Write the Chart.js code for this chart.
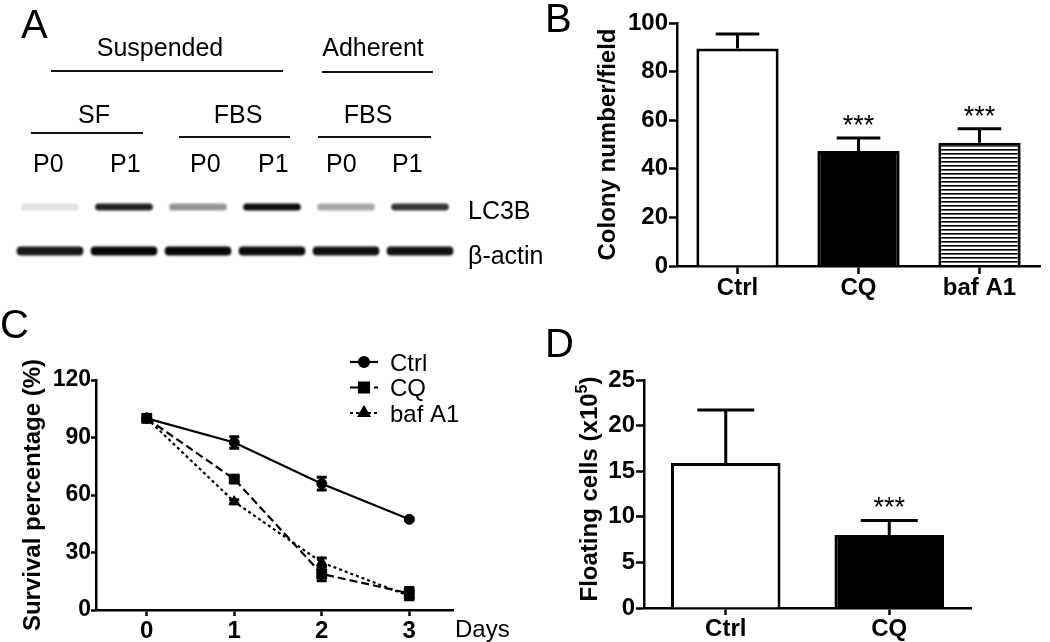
<!DOCTYPE html>
<html><head><meta charset="utf-8">
<script src="https://cdn.jsdelivr.net/npm/chart.js@4.4.1/dist/chart.umd.min.js"></script>
<style>
html,body{margin:0;padding:0;background:#fff;}
#fig{position:relative;width:1050px;height:642px;overflow:hidden;background:#fff;font-family:"Liberation Sans",Arial,sans-serif;color:#000;}
#fig canvas{position:absolute;}
.t{position:absolute;white-space:nowrap;line-height:1;}
.hl{position:absolute;height:2px;background:#111;}
</style></head><body>
<div id="fig">
  <canvas id="cA" width="520" height="300" style="left:0;top:0"></canvas>
  <canvas id="cB" width="530" height="310" style="left:520px;top:0"></canvas>
  <canvas id="cC" width="520" height="342" style="left:0;top:300px"></canvas>
  <canvas id="cD" width="530" height="342" style="left:520px;top:300px"></canvas>
</div>
<script>
// ---------------- DATA ----------------
// Panel A (western blot): relative band densities per lane
const blotLanes = ['SF P0', 'SF P1', 'FBS P0', 'FBS P1', 'Adherent FBS P0', 'Adherent FBS P1'];
const blotRows = ['LC3B', 'β-actin'];
const lc3bDensity = [0.08, 0.86, 0.40, 0.95, 0.32, 0.78];
const actinDensity = [0.90, 0.97, 0.97, 0.95, 0.93, 0.93];

// Panel B
const colonyGroups = ['Ctrl', 'CQ', 'baf A1'];
const colonyMean = [89.5, 47.3, 50.7];
const colonySem = [6.0, 5.4, 5.8];
const colonySig = ['', '***', '***'];
const colonyTicks = [0, 20, 40, 60, 80, 100];

// Panel C
const days = [0, 1, 2, 3];
const survCtrl = [100, 87.4, 65.9, 47.3];
const survCtrlErr = [0, 3.0, 3.3, 0.6];
const survCQ = [100, 68.3, 18.8, 8.7];
const survCQErr = [0, 1.2, 3.6, 3.0];
const survBaf = [100, 56.5, 24.8, 7.3];
const survBafErr = [0, 1.0, 2.3, 2.0];
const survTicks = [0, 30, 60, 90, 120];

// Panel D
const floatGroups = ['Ctrl', 'CQ'];
const floatMean = [15.9, 8.0];
const floatSem = [5.8, 1.6];
const floatSig = ['', '***'];
const floatTicks = [0, 5, 10, 15, 20, 25];

// ---------------- helpers ----------------
const FONT = '"Liberation Sans", Arial, sans-serif';
Chart.defaults.font.family = FONT;
Chart.defaults.color = '#000';
Chart.defaults.animation = false;
Chart.defaults.plugins.legend.display = false;
Chart.defaults.plugins.tooltip.enabled = false;

const fig = document.getElementById('fig');
function label(text, x, baseline, size, opts = {}) {
  const d = document.createElement('div');
  d.className = 't';
  d.textContent = text;
  d.style.fontSize = size + 'px';
  d.style.fontWeight = opts.bold ? 'bold' : 'normal';
  d.style.left = x + 'px';
  d.style.top = (baseline - 0.8465 * size) + 'px';
  if (opts.center) d.style.transform = 'translateX(-50%)';
  fig.appendChild(d);
}
function hline(x1, x2, y) {
  const d = document.createElement('div');
  d.className = 'hl';
  d.style.left = x1 + 'px';
  d.style.width = (x2 - x1) + 'px';
  d.style.top = (y - 1) + 'px';
  fig.appendChild(d);
}
function fixedTicks(arr) {
  return (s) => { s.ticks = arr.map(v => ({ value: v })); };
}

// error-bar / significance plugin factory
function errPlugin(sets) {
  return {
    id: 'errbars',
    afterDatasetsDraw(chart) {
      const ctx = chart.ctx;
      const yS = chart.scales.y;
      sets.forEach(s => {
        const meta = chart.getDatasetMeta(s.dataset);
        meta.data.forEach((el, i) => {
          const v = s.means[i], e = s.errs[i];
          const x = el.x;
          const cap = s.capFrac ? el.width * s.capFrac : s.cap;
          const yTop = yS.getPixelForValue(v + e);
          const yBot = yS.getPixelForValue(s.both ? v - e : v);
          ctx.save();
          ctx.strokeStyle = '#000';
          ctx.lineWidth = s.lw;
          ctx.lineCap = 'butt';
          if (e > 0) {
            ctx.beginPath();
            ctx.moveTo(x, yBot); ctx.lineTo(x, yTop);
            ctx.moveTo(x - cap / 2, yTop); ctx.lineTo(x + cap / 2, yTop);
            if (s.both) { ctx.moveTo(x - cap / 2, yBot); ctx.lineTo(x + cap / 2, yBot); }
            ctx.stroke();
          }
          if (s.sig && s.sig[i]) {
            ctx.fillStyle = '#000';
            ctx.font = '27px ' + FONT;
            ctx.textAlign = 'center';
            ctx.textBaseline = 'alphabetic';
            ctx.fillText(s.sig[i], x, yTop - 4);
          }
          ctx.restore();
        });
      });
    }
  };
}

const axisBorder = { color: '#000', width: 2.5 };

// ---------------- Panel A text ----------------
label('A', 21, 38, 40);
label('B', 545, 32, 40);
label('C', 0, 338, 40);
label('D', 545, 357, 40);

label('Suspended', 160, 56, 25, { center: true });
label('Adherent', 373, 56, 25, { center: true });
hline(51, 283, 71);
hline(322, 433, 72);
label('SF', 94, 123, 25, { center: true });
label('FBS', 238, 123, 25, { center: true });
label('FBS', 368, 123, 25, { center: true });
hline(31, 143, 133);
hline(179, 290, 137);
hline(318, 431, 137);
const pLeft = [33, 110, 190, 258, 326, 392];
['P0', 'P1', 'P0', 'P1', 'P0', 'P1'].forEach((t, i) => label(t, pLeft[i], 172, 25));
label(blotRows[0], 468, 219, 25);
label(blotRows[1], 468, 264, 25);

// ---------------- Panel A blot ----------------
const bandHalf = { lc3b: 0.08, actin: 0.1 };
const gray = d => { const g = Math.round(245 * (1 - d)); return `rgb(${g},${g},${g})`; };
new Chart(document.getElementById('cA'), {
  type: 'bar',
  data: {
    labels: blotLanes,
    datasets: [
      { label: blotRows[0], data: lc3bDensity.map(() => [1.5 - bandHalf.lc3b, 1.5 + bandHalf.lc3b]),
        backgroundColor: lc3bDensity.map(gray), barPercentage: 0.78, categoryPercentage: 1,
        grouped: false, borderRadius: 4, borderSkipped: false },
      { label: blotRows[1], data: actinDensity.map(() => [0.5 - bandHalf.actin, 0.5 + bandHalf.actin]),
        backgroundColor: actinDensity.map(gray), barPercentage: 0.9, categoryPercentage: 1,
        grouped: false, borderRadius: 4, borderSkipped: false }
    ]
  },
  options: {
    responsive: false,
    layout: { padding: { left: 13, right: 63, top: 185, bottom: 27 } },
    scales: {
      x: { display: false },
      y: { display: false, min: 0, max: 2 }
    }
  },
  plugins: [{
    id: 'blotBlur',
    beforeDatasetsDraw(c) { c.ctx.save(); c.ctx.filter = 'blur(1.3px)'; },
    afterDatasetsDraw(c) { c.ctx.restore(); }
  }]
});

// ---------------- Panel B ----------------
const pc = document.createElement('canvas');
pc.width = 4; pc.height = 4;
const pctx = pc.getContext('2d');
pctx.fillStyle = '#fff'; pctx.fillRect(0, 0, 4, 4);
pctx.fillStyle = '#000'; pctx.fillRect(0, 1, 4, 1.6);
const stripes = document.getElementById('cB').getContext('2d').createPattern(pc, 'repeat');

new Chart(document.getElementById('cB'), {
  type: 'bar',
  data: {
    labels: colonyGroups,
    datasets: [{
      data: colonyMean,
      backgroundColor: ['#fff', '#000', stripes],
      borderColor: '#000', borderWidth: 3, borderSkipped: 'start',
      barPercentage: 0.68, categoryPercentage: 1
    }]
  },
  options: {
    responsive: false,
    layout: { padding: { left: 74, right: 10, top: 23, bottom: 0 } },
    scales: {
      x: {
        afterFit: s => { s.height = 44; },
        grid: { offset: false, drawOnChartArea: false, drawTicks: true, tickLength: 8, tickWidth: 2.5, tickColor: '#000' },
        border: axisBorder,
        ticks: { font: { size: 24, weight: 'bold' }, padding: 0, color: '#000' }
      },
      y: {
        min: 0, max: 100,
        afterBuildTicks: fixedTicks(colonyTicks),
        afterFit: s => { s.width = 83; },
        grid: { drawOnChartArea: false, drawTicks: true, tickLength: 8, tickWidth: 2.5, tickColor: '#000' },
        border: axisBorder,
        ticks: { font: { size: 24, weight: 'bold' }, padding: 1, color: '#000' },
        title: { display: true, text: 'Colony number/field', font: { size: 24, weight: 'bold' }, padding: 0, color: '#000' }
      }
    }
  },
  plugins: [errPlugin([{ dataset: 0, means: colonyMean, errs: colonySem, capFrac: 0.53, lw: 3, both: false, sig: colonySig }])]
});

// ---------------- Panel C ----------------
const toXY = arr => days.map((d, i) => ({ x: d, y: arr[i] }));
const cLegend = {
  id: 'cLegend',
  afterDraw(chart) {
    const ctx = chart.ctx;
    chart.data.datasets.forEach((ds, i) => {
      const yc = 62 + i * 25.5;
      ctx.save();
      ctx.strokeStyle = '#000'; ctx.fillStyle = '#000'; ctx.lineWidth = 2.2;
      ctx.setLineDash(ds.borderDash || []);
      ctx.beginPath(); ctx.moveTo(350, yc); ctx.lineTo(378, yc); ctx.stroke();
      ctx.setLineDash([]);
      Chart.helpers.drawPoint(ctx, { pointStyle: ds.pointStyle, radius: ds.pointRadius, borderWidth: 1, rotation: 0 }, 364, yc);
      ctx.font = '24px ' + FONT; ctx.textBaseline = 'alphabetic'; ctx.textAlign = 'left';
      ctx.fillText(ds.label, 390, yc + 8.6);
      ctx.restore();
    });
    ctx.save();
    ctx.fillStyle = '#000'; ctx.font = '24px ' + FONT; ctx.textBaseline = 'alphabetic';
    ctx.fillText('Days', 455, 337);
    ctx.restore();
  }
};
const lineCommon = { borderColor: '#000', backgroundColor: '#000', pointBackgroundColor: '#000', pointBorderColor: '#000', borderWidth: 2.2, pointBorderWidth: 1, fill: false, tension: 0 };
new Chart(document.getElementById('cC'), {
  type: 'line',
  data: {
    datasets: [
      Object.assign({ label: 'Ctrl', data: toXY(survCtrl), pointStyle: 'circle', pointRadius: 5 }, lineCommon),
      Object.assign({ label: 'CQ', data: toXY(survCQ), pointStyle: 'rect', pointRadius: 7, borderDash: [8, 4] }, lineCommon),
      Object.assign({ label: 'baf A1', data: toXY(survBaf), pointStyle: 'triangle', pointRadius: 6, borderDash: [3, 3] }, lineCommon)
    ]
  },
  options: {
    responsive: false,
    layout: { padding: { left: 19, right: 67, top: 80, bottom: 0 } },
    scales: {
      x: {
        type: 'linear', min: -0.58, max: 3.5,
        afterBuildTicks: fixedTicks(days),
        afterFit: s => { s.height = 32; },
        grid: { drawOnChartArea: false, drawTicks: true, tickLength: 6, tickWidth: 2.5, tickColor: '#000' },
        border: axisBorder,
        ticks: { font: { size: 24, weight: 'bold' }, padding: 1, color: '#000' }
      },
      y: {
        min: 0, max: 120,
        afterBuildTicks: fixedTicks(survTicks),
        afterFit: s => { s.width = 77; },
        grid: { drawOnChartArea: false, drawTicks: true, tickLength: 5, tickWidth: 2.5, tickColor: '#000' },
        border: axisBorder,
        ticks: { font: { size: 23, weight: 'bold' }, padding: 0, color: '#000' },
        title: { display: true, text: 'Survival percentage (%)', font: { size: 24, weight: 'bold' }, padding: 0, color: '#000' }
      }
    }
  },
  plugins: [errPlugin([
    { dataset: 0, means: survCtrl, errs: survCtrlErr, cap: 10, lw: 3, both: true },
    { dataset: 1, means: survCQ, errs: survCQErr, cap: 10, lw: 3, both: true },
    { dataset: 2, means: survBaf, errs: survBafErr, cap: 10, lw: 3, both: true }
  ]), cLegend]
});

// ---------------- Panel D ----------------
const dTitle = {
  id: 'dTitle',
  afterDraw(chart) {
    const ctx = chart.ctx;
    ctx.save();
    ctx.translate(68, 189);
    ctx.rotate(-Math.PI / 2);
    ctx.fillStyle = '#000';
    ctx.textBaseline = 'alphabetic'; ctx.textAlign = 'left';
    const main = 'Floating cells (x10', sup = '5', end = ')';
    ctx.font = 'bold 24px ' + FONT; const w1 = ctx.measureText(main).width; const w3 = ctx.measureText(end).width;
    ctx.font = 'bold 16px ' + FONT; const w2 = ctx.measureText(sup).width;
    let x = -(w1 + w2 + w3) / 2;
    ctx.font = 'bold 24px ' + FONT; ctx.fillText(main, x, 8.6); x += w1;
    ctx.font = 'bold 16px ' + FONT; ctx.fillText(sup, x, -1.5); x += w2;
    ctx.font = 'bold 24px ' + FONT; ctx.fillText(end, x, 8.6);
    ctx.restore();
  }
};
new Chart(document.getElementById('cD'), {
  type: 'bar',
  data: {
    labels: floatGroups,
    datasets: [{
      data: floatMean,
      backgroundColor: ['#fff', '#000'],
      borderColor: '#000', borderWidth: 3, borderSkipped: 'start',
      barPercentage: 0.67, categoryPercentage: 1
    }]
  },
  options: {
    responsive: false,
    layout: { padding: { left: 40, right: 79, top: 80, bottom: 0 } },
    scales: {
      x: {
        afterFit: s => { s.height = 34; },
        grid: { offset: false, drawOnChartArea: false, drawTicks: true, tickLength: 7, tickWidth: 2.5, tickColor: '#000' },
        border: axisBorder,
        ticks: { font: { size: 24, weight: 'bold' }, padding: 0, color: '#000' }
      },
      y: {
        min: 0, max: 25,
        afterBuildTicks: fixedTicks(floatTicks),
        afterFit: s => { s.width = 84; },
        grid: { drawOnChartArea: false, drawTicks: true, tickLength: 8, tickWidth: 2.5, tickColor: '#000' },
        border: axisBorder,
        ticks: { font: { size: 24, weight: 'bold' }, padding: 1, color: '#000' }
      }
    }
  },
  plugins: [errPlugin([{ dataset: 0, means: floatMean, errs: floatSem, capFrac: 0.52, lw: 3, both: false, sig: floatSig }]), dTitle]
});
</script>
</body></html>
